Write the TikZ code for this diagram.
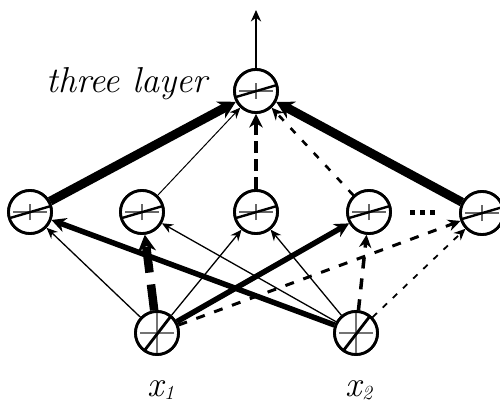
\documentclass[tikz,border=0pt]{standalone}
\usetikzlibrary{arrows.meta}
\tikzset{
  unit/.style={circle, draw, line width=2.8pt, minimum size=43pt, inner sep=0pt, fill=white},
  hid/.style={unit, path picture={
    \draw[line width=1.4pt, black!60] ([xshift=-17pt]path picture bounding box.center) -- ([xshift=17pt]path picture bounding box.center);
    \draw[line width=1.4pt, black!60] ([yshift=-8pt]path picture bounding box.center) -- ([yshift=8pt]path picture bounding box.center);
    \draw[line width=2.4pt] ([shift={(-20pt,-6pt)}]path picture bounding box.center) -- ([shift={(21pt,6pt)}]path picture bounding box.center);
  }},
  inp/.style={unit, path picture={
    \draw[line width=1.3pt, black!55] ([xshift=-17pt]path picture bounding box.center) -- ([xshift=17pt]path picture bounding box.center);
    \draw[line width=1.3pt, black!55] ([yshift=-20pt]path picture bounding box.center) -- ([yshift=20pt]path picture bounding box.center);
    \draw[line width=2.8pt] ([shift={(-16pt,-22pt)}]path picture bounding box.center) -- ([shift={(14pt,17pt)}]path picture bounding box.center);
  }},
  conn/.style={-{Stealth[length=10pt 0.8, width=8pt 1.2]}},
  thinw/.style={conn, line width=1.3pt},
  thickw/.style={conn, line width=5.5pt},
  heavyw/.style={conn, line width=9pt},
  lbl/.style={font=\fontsize{36}{40}\selectfont\itshape, inner sep=0pt},
}
\begin{document}
\begin{tikzpicture}[x=1pt, y=-1pt]
\useasboundingbox (0,0) rectangle (500,406);
% nodes
\node[hid] (o) at (256,91) {};
\node[hid] (h1) at (30,212) {};
\node[hid] (h2) at (142,212) {};
\node[hid] (h3) at (256,212) {};
\node[hid] (h4) at (369,212) {};
\node[hid] (h5) at (482,213) {};
\node[inp] (x1) at (157,333) {};
\node[inp] (x2) at (356,333) {};
\coordinate (top) at (256,10);
% input -> hidden
\draw[thinw] (x1) -- (h1);
\draw[conn, line width=8.5pt, dash pattern=on 26pt off 12pt] (x1) -- (h2);
\draw[thinw] (x1) -- (h3);
\draw[thickw] (x1) -- (h4);
\draw[conn, line width=3pt, dash pattern=on 9pt off 10pt] (x1) -- (h5);
\draw[thickw] (x2) -- (h1);
\draw[thinw] (x2) -- (h2);
\draw[thinw] (x2) -- (h3);
\draw[conn, line width=3.5pt, dash pattern=on 11pt off 10pt] (x2) -- (h4);
\draw[conn, line width=1.8pt, dash pattern=on 6pt off 8pt] (x2) -- (h5);
% hidden -> output
\draw[heavyw] (h1) -- (o);
\draw[thinw, line width=1pt] (h2) -- (o);
\draw[conn, line width=4.5pt, dash pattern=on 12pt off 6pt] (h3) -- (o);
\draw[conn, line width=2.6pt, dash pattern=on 7pt off 10pt] (h4) -- (o);
\draw[heavyw] (h5) -- (o);
\draw[conn, line width=1.8pt] (o) -- (top);
% redraw nodes on top
\foreach \n in {o,h1,h2,h3,h4,h5} \node[hid] at (\n) {};
\foreach \n in {x1,x2} \node[inp] at (\n) {};
% dots
\foreach \dx in {410,420,430} \fill (\dx,210) rectangle +(5,5);
% labels
\node[lbl, anchor=base east] (title) at (208,93) {three layer};
\node[lbl, anchor=base] (l1) at (161,396) {x\raisebox{-0.25ex}{\fontsize{20}{22}\selectfont 1}};
\node[lbl, anchor=base] (l2) at (359,396) {x\raisebox{-0.25ex}{\fontsize{20}{22}\selectfont 2}};
\end{tikzpicture}
\end{document}
